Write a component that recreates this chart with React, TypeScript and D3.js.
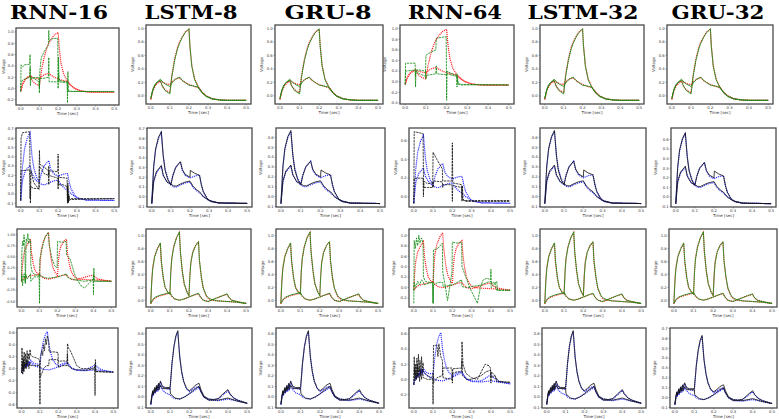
import React from 'react';
import * as d3 from 'd3';

type P = [number, number];

const TITLES = ['RNN-16', 'LSTM-8', 'GRU-8', 'RNN-64', 'LSTM-32', 'GRU-32'];
const MODEL_KIND = ['rnn16', 'good', 'good', 'rnn64', 'good', 'good'];
const X_TICKS = ['0.0', '0.1', '0.2', '0.3', '0.4', '0.5'];
const X_DOMAIN: [number, number] = [-0.025, 0.525];

// ---------- Row 1 (red truth / green prediction) ----------
const R1_TRUTH_A: P[] = [[0,-0.05],[0.01,0.08],[0.02,0.15],[0.035,0.2],[0.05,0.22],[0.06,0.15],[0.075,0.09],[0.1,0.05],[0.11,0.3],[0.125,0.55],[0.14,0.72],[0.15,0.8],[0.165,0.88],[0.18,0.95],[0.2,0.99],[0.205,0.75],[0.215,0.45],[0.23,0.25],[0.25,0.13],[0.27,0.05],[0.29,0.0],[0.32,-0.04],[0.36,-0.06],[0.4,-0.065],[0.5,-0.065]];
const R1_TRUTH_B: P[] = [[0,-0.05],[0.01,0.07],[0.025,0.16],[0.05,0.23],[0.065,0.2],[0.08,0.18],[0.1,0.17],[0.115,0.22],[0.13,0.25],[0.15,0.27],[0.165,0.23],[0.18,0.2],[0.2,0.17],[0.22,0.15],[0.25,0.12],[0.27,0.05],[0.29,0.0],[0.32,-0.04],[0.36,-0.06],[0.4,-0.065],[0.5,-0.065]];
const R1_GOOD_A: P[] = [[0,-0.04],[0.01,0.09],[0.02,0.16],[0.035,0.21],[0.05,0.23],[0.06,0.15],[0.075,0.08],[0.1,0.03],[0.11,0.28],[0.125,0.53],[0.14,0.7],[0.15,0.78],[0.165,0.87],[0.18,0.94],[0.2,1.0],[0.205,0.74],[0.215,0.44],[0.23,0.24],[0.25,0.12],[0.27,0.04],[0.29,-0.01],[0.32,-0.045],[0.36,-0.06],[0.4,-0.065],[0.5,-0.065]];
const R1_GOOD_B: P[] = [[0,-0.04],[0.01,0.08],[0.025,0.18],[0.05,0.25],[0.065,0.2],[0.08,0.17],[0.1,0.14],[0.115,0.21],[0.13,0.25],[0.15,0.28],[0.165,0.23],[0.18,0.2],[0.2,0.16],[0.22,0.15],[0.25,0.13],[0.27,0.05],[0.29,0.0],[0.32,-0.04],[0.36,-0.06],[0.4,-0.065],[0.5,-0.065]];
const R1_RNN16_A: P[] = [[0,-0.05],[0.002,0.42],[0.01,0.38],[0.02,0.42],[0.048,0.43],[0.05,0.6],[0.052,0.18],[0.07,0.19],[0.098,0.2],[0.1,-0.08],[0.102,0.3],[0.11,0.55],[0.125,0.65],[0.14,0.73],[0.148,0.78],[0.15,1.03],[0.152,0.85],[0.17,0.88],[0.198,0.89],[0.2,0.0],[0.202,0.55],[0.205,0.14],[0.248,0.12],[0.25,-0.25],[0.252,0.3],[0.255,-0.04],[0.27,-0.05],[0.5,-0.055]];
const R1_RNN16_B: P[] = [[0,-0.05],[0.002,0.1],[0.01,0.15],[0.03,0.18],[0.048,0.2],[0.05,0.38],[0.052,0.05],[0.055,0.2],[0.07,0.18],[0.098,0.12],[0.1,0.0],[0.102,0.18],[0.12,0.18],[0.148,0.2],[0.15,0.55],[0.152,0.12],[0.2,0.12],[0.202,0.25],[0.205,0.12],[0.248,0.1],[0.25,0.0],[0.252,-0.05],[0.5,-0.05]];
const R1_RNN64_A: P[] = [[0,-0.05],[0.002,0.35],[0.048,0.35],[0.05,-0.1],[0.052,0.2],[0.07,0.15],[0.098,0.1],[0.1,0.5],[0.12,0.55],[0.148,0.6],[0.15,0.82],[0.198,0.85],[0.2,-0.35],[0.202,0.2],[0.22,0.16],[0.248,0.12],[0.25,-0.1],[0.252,0.1],[0.256,-0.05],[0.27,-0.06],[0.5,-0.06]];
const R1_RNN64_B: P[] = [[0,-0.05],[0.002,0.2],[0.048,0.22],[0.05,0.1],[0.052,0.22],[0.07,0.22],[0.098,0.2],[0.1,0.05],[0.102,0.12],[0.148,0.15],[0.15,0.3],[0.152,0.15],[0.198,0.13],[0.2,0.15],[0.248,0.1],[0.25,0.15],[0.252,-0.02],[0.27,-0.05],[0.5,-0.06]];

// ---------- Row 2 (blue truth / black prediction) ----------
const R2_TRUTH_A: P[] = [[0,-0.07],[0.01,0.3],[0.02,0.48],[0.035,0.6],[0.05,0.66],[0.06,0.42],[0.07,0.28],[0.085,0.18],[0.1,0.13],[0.11,0.22],[0.125,0.3],[0.15,0.36],[0.16,0.27],[0.175,0.22],[0.2,0.19],[0.21,0.2],[0.23,0.215],[0.25,0.22],[0.26,0.12],[0.27,0.05],[0.29,-0.02],[0.31,-0.05],[0.35,-0.065],[0.5,-0.07]];
const R2_TRUTH_B: P[] = [[0,-0.07],[0.01,0.15],[0.025,0.25],[0.05,0.31],[0.06,0.22],[0.08,0.15],[0.1,0.12],[0.115,0.1],[0.13,0.1],[0.15,0.12],[0.175,0.14],[0.2,0.15],[0.215,0.1],[0.235,0.06],[0.25,0.04],[0.27,0.0],[0.3,-0.04],[0.35,-0.065],[0.5,-0.07]];
const R2_GOOD_A: P[] = [[0,-0.07],[0.01,0.31],[0.02,0.49],[0.035,0.61],[0.05,0.67],[0.06,0.42],[0.07,0.27],[0.085,0.17],[0.1,0.12],[0.11,0.21],[0.125,0.3],[0.15,0.36],[0.16,0.28],[0.175,0.23],[0.2,0.2],[0.202,0.27],[0.225,0.24],[0.25,0.22],[0.26,0.12],[0.27,0.05],[0.29,-0.02],[0.31,-0.05],[0.35,-0.065],[0.5,-0.07]];
const R2_GOOD_B: P[] = [[0,-0.07],[0.01,0.16],[0.025,0.26],[0.05,0.32],[0.06,0.22],[0.08,0.15],[0.1,0.13],[0.115,0.11],[0.13,0.11],[0.15,0.13],[0.175,0.15],[0.2,0.16],[0.215,0.11],[0.235,0.07],[0.25,0.05],[0.27,0.0],[0.3,-0.04],[0.35,-0.065],[0.5,-0.07]];
const R2_RNN16_A: P[] = [[0,-0.07],[0.002,0.6],[0.01,0.66],[0.048,0.67],[0.05,0.25],[0.052,-0.1],[0.055,0.25],[0.07,0.12],[0.098,0.05],[0.1,0.47],[0.102,0.32],[0.125,0.29],[0.148,0.25],[0.15,0.1],[0.152,0.25],[0.198,0.24],[0.2,0.43],[0.202,0.1],[0.225,0.1],[0.248,0.08],[0.25,-0.1],[0.252,0.08],[0.254,-0.08],[0.256,0.0],[0.26,-0.07],[0.27,-0.05],[0.5,-0.05]];
const R2_RNN16_B: P[] = [[0,-0.07],[0.002,0.25],[0.048,0.26],[0.05,-0.05],[0.052,0.08],[0.07,0.06],[0.098,0.06],[0.1,0.3],[0.125,0.22],[0.148,0.2],[0.15,0.3],[0.152,0.2],[0.198,0.17],[0.2,0.05],[0.202,0.18],[0.248,0.17],[0.25,-0.08],[0.252,0.12],[0.254,-0.1],[0.258,-0.02],[0.262,-0.06],[0.5,-0.05]];
const R2_RNN64_A: P[] = [[0,-0.07],[0.002,0.7],[0.048,0.68],[0.05,0.2],[0.052,0.1],[0.07,0.1],[0.098,0.1],[0.1,0.48],[0.12,0.4],[0.148,0.3],[0.15,0.17],[0.198,0.17],[0.2,0.58],[0.202,0.15],[0.248,0.13],[0.25,-0.05],[0.252,0.12],[0.255,-0.02],[0.26,-0.04],[0.5,-0.04]];
const R2_RNN64_B: P[] = [[0,-0.07],[0.002,0.2],[0.048,0.2],[0.05,0.0],[0.052,0.17],[0.07,0.14],[0.098,0.15],[0.1,0.1],[0.102,0.17],[0.148,0.16],[0.15,0.1],[0.152,0.13],[0.198,0.13],[0.2,-0.05],[0.202,0.12],[0.248,0.1],[0.25,0.02],[0.252,-0.03],[0.27,-0.05],[0.5,-0.05]];

// ---------- Row 3 (red truth / green prediction) ----------
const R3_TRUTH_A: P[] = [[0,-0.05],[0.005,0.3],[0.01,0.5],[0.02,0.68],[0.035,0.8],[0.05,0.88],[0.055,0.6],[0.065,0.35],[0.075,0.2],[0.09,0.12],[0.1,0.1],[0.105,0.45],[0.11,0.65],[0.12,0.83],[0.135,0.97],[0.15,1.05],[0.155,0.75],[0.165,0.45],[0.175,0.25],[0.19,0.13],[0.2,0.08],[0.205,0.4],[0.21,0.6],[0.22,0.75],[0.235,0.85],[0.25,0.9],[0.255,0.6],[0.265,0.35],[0.275,0.18],[0.29,0.07],[0.3,0.03],[0.32,0.0],[0.35,-0.01],[0.4,-0.02],[0.45,-0.03],[0.5,-0.05]];
const R3_TRUTH_B: P[] = [[0,-0.05],[0.01,0.0],[0.025,0.04],[0.05,0.07],[0.075,0.09],[0.1,0.11],[0.11,0.06],[0.125,0.02],[0.15,0.0],[0.175,0.02],[0.2,0.05],[0.225,0.08],[0.25,0.1],[0.26,0.05],[0.275,0.0],[0.3,-0.02],[0.325,0.01],[0.35,0.04],[0.375,0.07],[0.4,0.09],[0.41,0.04],[0.425,0.0],[0.45,-0.02],[0.5,-0.05]];
const R3_GOOD_A: P[] = [[0,-0.05],[0.005,0.28],[0.01,0.48],[0.02,0.67],[0.035,0.8],[0.05,0.89],[0.055,0.62],[0.065,0.36],[0.075,0.2],[0.09,0.12],[0.1,0.09],[0.105,0.44],[0.11,0.64],[0.12,0.82],[0.135,0.97],[0.15,1.06],[0.155,0.76],[0.165,0.46],[0.175,0.26],[0.19,0.12],[0.2,0.07],[0.205,0.38],[0.21,0.58],[0.22,0.74],[0.235,0.85],[0.25,0.91],[0.255,0.62],[0.265,0.36],[0.275,0.19],[0.29,0.08],[0.3,0.04],[0.32,0.01],[0.35,-0.01],[0.4,-0.02],[0.45,-0.03],[0.5,-0.05]];
const R3_GOOD_B: P[] = [[0,-0.05],[0.01,0.01],[0.025,0.05],[0.05,0.08],[0.075,0.1],[0.1,0.12],[0.11,0.07],[0.125,0.02],[0.15,0.0],[0.175,0.02],[0.2,0.05],[0.225,0.08],[0.25,0.11],[0.26,0.05],[0.275,0.0],[0.3,-0.02],[0.325,0.01],[0.35,0.04],[0.375,0.07],[0.4,0.1],[0.41,0.04],[0.425,0.0],[0.45,-0.02],[0.5,-0.05]];
const R3_RNN16_A: P[] = [[0,-0.05],[0.002,0.6],[0.006,0.85],[0.01,0.75],[0.014,1.0],[0.018,0.8],[0.022,-0.1],[0.026,0.9],[0.03,0.85],[0.035,1.03],[0.04,0.8],[0.045,0.9],[0.05,0.88],[0.052,0.3],[0.06,0.15],[0.075,0.1],[0.098,0.08],[0.1,-0.55],[0.102,0.45],[0.115,0.7],[0.13,0.95],[0.148,1.05],[0.155,0.75],[0.17,0.45],[0.185,0.3],[0.198,0.25],[0.2,0.85],[0.225,0.83],[0.248,0.85],[0.25,0.55],[0.27,0.45],[0.3,0.05],[0.33,-0.15],[0.35,-0.2],[0.375,-0.1],[0.398,0.0],[0.4,-0.35],[0.402,0.25],[0.405,-0.02],[0.42,-0.05],[0.5,-0.05]];
const R3_RNN16_B: P[] = [[0,-0.05],[0.002,0.1],[0.006,-0.15],[0.01,0.05],[0.015,0.12],[0.02,-0.08],[0.025,0.1],[0.03,0.0],[0.04,0.05],[0.05,0.12],[0.052,-0.05],[0.07,0.05],[0.098,0.05],[0.1,0.12],[0.102,0.08],[0.13,0.03],[0.15,0.02],[0.2,0.05],[0.225,0.08],[0.25,0.12],[0.252,0.05],[0.275,0.0],[0.3,-0.02],[0.35,-0.05],[0.398,-0.02],[0.4,0.1],[0.402,-0.05],[0.5,-0.05]];
const R3_RNN64_A: P[] = [[0,-0.3],[0.002,0.9],[0.008,0.75],[0.014,0.95],[0.02,0.8],[0.026,1.0],[0.032,0.85],[0.04,0.95],[0.048,0.85],[0.05,0.2],[0.06,0.12],[0.08,0.1],[0.098,0.1],[0.1,-0.3],[0.102,0.72],[0.125,0.75],[0.148,0.85],[0.15,0.3],[0.16,0.1],[0.175,-0.25],[0.19,0.1],[0.198,0.3],[0.2,0.87],[0.225,0.85],[0.248,0.87],[0.25,0.4],[0.27,0.2],[0.29,0.0],[0.33,-0.3],[0.345,0.0],[0.36,0.15],[0.38,0.18],[0.398,0.15],[0.4,0.35],[0.402,0.08],[0.42,0.1],[0.43,-0.05],[0.5,-0.05]];
const R3_RNN64_B: P[] = [[0,-0.05],[0.002,0.1],[0.01,0.0],[0.02,0.12],[0.03,0.05],[0.04,0.15],[0.05,0.1],[0.052,0.05],[0.075,0.08],[0.098,0.1],[0.1,-0.3],[0.102,0.05],[0.125,0.1],[0.15,0.1],[0.152,0.02],[0.2,0.05],[0.225,0.1],[0.248,0.15],[0.25,0.02],[0.275,0.0],[0.3,0.02],[0.35,0.05],[0.38,0.1],[0.4,0.12],[0.402,0.0],[0.43,0.12],[0.435,-0.05],[0.5,-0.05]];

// ---------- Row 4 (blue truth / black prediction) ----------
const R4_TRUTH_A: P[] = [[0,-0.07],[0.005,0.0],[0.01,0.05],[0.012,0.02],[0.02,0.08],[0.022,0.05],[0.03,0.1],[0.032,0.07],[0.04,0.12],[0.042,0.09],[0.05,0.14],[0.06,0.1],[0.075,0.08],[0.1,0.07],[0.105,0.2],[0.11,0.32],[0.12,0.48],[0.13,0.57],[0.14,0.62],[0.145,0.5],[0.15,0.38],[0.16,0.24],[0.17,0.15],[0.185,0.08],[0.2,0.05],[0.215,0.07],[0.23,0.09],[0.25,0.1],[0.26,0.05],[0.275,0.0],[0.3,-0.02],[0.325,-0.025],[0.35,-0.02],[0.375,0.02],[0.4,0.06],[0.41,0.03],[0.43,-0.01],[0.45,-0.03],[0.5,-0.06]];
const R4_TRUTH_B: P[] = [[0,-0.07],[0.005,-0.01],[0.01,0.04],[0.012,0.01],[0.02,0.06],[0.022,0.03],[0.03,0.08],[0.032,0.05],[0.04,0.1],[0.042,0.07],[0.05,0.1],[0.06,0.07],[0.075,0.04],[0.1,0.02],[0.11,0.0],[0.125,-0.015],[0.15,-0.02],[0.175,0.0],[0.2,0.03],[0.225,0.06],[0.25,0.09],[0.26,0.05],[0.275,0.0],[0.3,-0.03],[0.35,-0.035],[0.4,-0.02],[0.45,-0.04],[0.5,-0.06]];
const R4_GOOD_A: P[] = [[0,-0.07],[0.005,0.01],[0.01,0.06],[0.012,0.03],[0.02,0.09],[0.022,0.06],[0.03,0.11],[0.032,0.08],[0.04,0.13],[0.042,0.1],[0.05,0.15],[0.06,0.1],[0.075,0.09],[0.1,0.09],[0.105,0.2],[0.11,0.32],[0.12,0.48],[0.13,0.58],[0.14,0.63],[0.145,0.5],[0.15,0.38],[0.16,0.24],[0.17,0.15],[0.185,0.08],[0.2,0.06],[0.215,0.08],[0.23,0.11],[0.25,0.13],[0.26,0.07],[0.275,0.01],[0.3,-0.02],[0.325,-0.025],[0.35,-0.015],[0.375,0.03],[0.4,0.07],[0.41,0.03],[0.43,-0.01],[0.45,-0.03],[0.5,-0.06]];
const R4_GOOD_B: P[] = [[0,-0.07],[0.005,0.0],[0.01,0.05],[0.012,0.02],[0.02,0.07],[0.022,0.04],[0.03,0.09],[0.032,0.06],[0.04,0.1],[0.042,0.07],[0.05,0.11],[0.06,0.08],[0.075,0.08],[0.1,0.08],[0.102,0.03],[0.125,-0.01],[0.15,-0.02],[0.175,0.0],[0.2,0.03],[0.225,0.07],[0.25,0.1],[0.26,0.05],[0.275,0.0],[0.3,-0.03],[0.35,-0.03],[0.4,-0.01],[0.45,-0.04],[0.5,-0.06]];
const R4_RNN16_A: P[] = [[0,-0.07],[0.002,0.35],[0.005,0.0],[0.008,0.2],[0.011,-0.05],[0.014,0.28],[0.018,0.05],[0.022,0.25],[0.026,0.0],[0.03,0.3],[0.034,0.1],[0.038,0.25],[0.042,0.15],[0.046,0.32],[0.05,0.22],[0.06,0.2],[0.08,0.18],[0.098,0.15],[0.1,-0.6],[0.102,0.2],[0.11,0.3],[0.115,0.22],[0.12,0.4],[0.125,0.3],[0.13,0.5],[0.135,0.4],[0.14,0.55],[0.148,0.45],[0.15,0.28],[0.175,0.28],[0.198,0.27],[0.2,0.12],[0.225,0.13],[0.248,0.12],[0.25,0.42],[0.255,0.35],[0.265,0.3],[0.28,0.2],[0.3,0.05],[0.325,0.0],[0.35,0.0],[0.375,0.0],[0.398,0.02],[0.4,-0.45],[0.402,0.15],[0.405,-0.05],[0.42,-0.05],[0.5,-0.06]];
const R4_RNN16_B: P[] = [[0,-0.07],[0.003,0.1],[0.006,-0.1],[0.01,0.15],[0.013,-0.05],[0.017,0.1],[0.02,0.0],[0.025,0.15],[0.03,0.05],[0.035,0.12],[0.04,0.0],[0.045,0.1],[0.05,0.05],[0.07,0.05],[0.098,0.05],[0.1,-0.15],[0.11,-0.08],[0.12,0.0],[0.135,0.05],[0.148,0.05],[0.15,0.15],[0.175,0.15],[0.198,0.15],[0.2,0.02],[0.225,0.05],[0.248,0.05],[0.25,0.25],[0.252,0.05],[0.275,0.0],[0.3,-0.02],[0.35,-0.03],[0.398,0.0],[0.4,0.08],[0.402,-0.05],[0.5,-0.06]];
const R4_RNN64_A: P[] = [[0,-0.07],[0.002,0.3],[0.005,0.05],[0.008,0.2],[0.012,0.0],[0.016,0.28],[0.02,0.05],[0.024,0.33],[0.028,0.1],[0.032,0.25],[0.036,0.05],[0.04,0.3],[0.044,0.1],[0.048,0.22],[0.05,0.1],[0.07,0.05],[0.098,0.0],[0.1,-0.33],[0.102,0.45],[0.12,0.45],[0.125,0.3],[0.13,0.47],[0.14,0.3],[0.148,0.25],[0.15,0.15],[0.175,0.15],[0.198,0.15],[0.2,-0.05],[0.202,0.14],[0.248,0.15],[0.25,0.5],[0.255,0.2],[0.27,0.08],[0.3,0.02],[0.33,0.0],[0.35,0.1],[0.37,0.2],[0.39,0.18],[0.398,0.15],[0.4,-0.05],[0.402,0.1],[0.42,0.05],[0.43,-0.03],[0.5,-0.04]];
const R4_RNN64_B: P[] = [[0,-0.07],[0.003,0.15],[0.006,-0.02],[0.01,0.12],[0.014,0.0],[0.018,0.2],[0.022,0.02],[0.026,0.15],[0.03,-0.03],[0.035,0.12],[0.04,0.0],[0.045,0.1],[0.05,0.02],[0.07,0.0],[0.098,0.0],[0.1,0.08],[0.102,-0.05],[0.12,0.02],[0.148,0.05],[0.15,0.15],[0.152,0.02],[0.198,0.0],[0.2,0.08],[0.225,0.1],[0.248,0.1],[0.25,0.25],[0.252,0.05],[0.275,0.0],[0.3,0.0],[0.35,0.05],[0.375,0.1],[0.398,0.12],[0.4,0.02],[0.42,0.05],[0.44,-0.03],[0.5,-0.04]];

// ---------- y tick labels per panel ----------
const T_M02_10 = ['-0.2', '0.0', '0.2', '0.4', '0.6', '0.8', '1.0'];
const T_00_10 = ['0.0', '0.2', '0.4', '0.6', '0.8', '1.0'];
const T_M04_10 = ['-0.4', '-0.2', '0.0', '0.2', '0.4', '0.6', '0.8', '1.0'];
const T_M01_07 = ['-0.1', '0.0', '0.1', '0.2', '0.3', '0.4', '0.5', '0.6', '0.7'];
const T_M01_06 = ['-0.1', '0.0', '0.1', '0.2', '0.3', '0.4', '0.5', '0.6'];
const T_00_06 = ['0.0', '0.2', '0.4', '0.6'];
const T_M050_100 = ['-0.50', '-0.25', '0.00', '0.25', '0.50', '0.75', '1.00'];
const T_M06_06 = ['-0.6', '-0.4', '-0.2', '0.0', '0.2', '0.4', '0.6'];
const T_M02_06 = ['-0.2', '0.0', '0.2', '0.4', '0.6'];

const Y_TICKS = [
  [T_M02_10, T_00_10, T_00_10, T_M04_10, T_00_10, T_00_10],
  [T_M01_07, T_M01_07, T_M01_06, T_00_06, T_M01_06, T_M01_06],
  [T_M050_100, T_00_10, T_00_10, T_M02_10, T_00_10, T_00_10],
  [T_M06_06, T_M01_06, T_M01_06, T_M02_06, T_M01_06, T_M01_07],
];
const Y_DOMAINS: [number, number][][] = [
  [[-0.29, 1.07], [-0.12, 1.055], [-0.12, 1.055], [-0.42, 1.07], [-0.12, 1.055], [-0.12, 1.055]],
  [[-0.14, 0.71], [-0.107, 0.707], [-0.105, 0.695], [-0.11, 0.74], [-0.105, 0.695], [-0.105, 0.72]],
  [[-0.63, 1.13], [-0.105, 1.105], [-0.105, 1.105], [-0.37, 1.12], [-0.105, 1.105], [-0.105, 1.105]],
  [[-0.66, 0.68], [-0.105, 0.655], [-0.105, 0.655], [-0.38, 0.68], [-0.105, 0.655], [-0.105, 0.705]],
];

const ROWS = [
  { truth: [R1_TRUTH_A, R1_TRUTH_B], good: [R1_GOOD_A, R1_GOOD_B], rnn16: [R1_RNN16_A, R1_RNN16_B], rnn64: [R1_RNN64_A, R1_RNN64_B], truthColor: '#ff1f1f', predColor: '#118a11' },
  { truth: [R2_TRUTH_A, R2_TRUTH_B], good: [R2_GOOD_A, R2_GOOD_B], rnn16: [R2_RNN16_A, R2_RNN16_B], rnn64: [R2_RNN64_A, R2_RNN64_B], truthColor: '#2a2aff', predColor: '#111111' },
  { truth: [R3_TRUTH_A, R3_TRUTH_B], good: [R3_GOOD_A, R3_GOOD_B], rnn16: [R3_RNN16_A, R3_RNN16_B], rnn64: [R3_RNN64_A, R3_RNN64_B], truthColor: '#ff1f1f', predColor: '#118a11' },
  { truth: [R4_TRUTH_A, R4_TRUTH_B], good: [R4_GOOD_A, R4_GOOD_B], rnn16: [R4_RNN16_A, R4_RNN16_B], rnn64: [R4_RNN64_A, R4_RNN64_B], truthColor: '#2a2aff', predColor: '#111111' },
];

// ---------- layout (pixels) ----------
const TITLE_X = [59, 191, 328, 455, 583, 718];
const TITLE_W = [98, 93, 87, 94, 111, 93];
const BOXES: [number, number, number, number][][] = [
  [[16, 119, 28, 105], [146, 251, 25, 104], [275, 383, 25, 104], [400, 514, 25, 104], [540, 644, 25, 104], [667, 773, 25, 104]],
  [[16, 119, 128, 207], [147, 252, 128, 207], [276, 385, 128, 207], [409, 515, 128, 207], [540, 646, 128, 207], [671, 776, 128, 207]],
  [[17, 116, 229, 307], [146, 251, 229, 307], [276, 383, 229, 307], [409, 515, 229, 307], [540, 646, 229, 307], [669, 777, 229, 307]],
  [[17, 118, 328, 408], [146, 252, 328, 408], [276, 384, 328, 408], [409, 515, 328, 408], [542, 646, 328, 408], [670, 777, 328, 408]],
];

const TICK_FONT = 'DejaVu Sans, sans-serif';

function Panel({ r, c }: { r: number; c: number }) {
  const row = ROWS[r];
  const [x0, x1, y0, y1] = BOXES[r][c];
  const x = d3.scaleLinear().domain(X_DOMAIN).range([x0, x1]);
  const y = d3.scaleLinear().domain(Y_DOMAINS[r][c]).range([y1, y0]);
  const line = d3.line<P>().x((d) => x(d[0])).y((d) => y(d[1])).curve(d3.curveLinear);
  const kind = MODEL_KIND[c];
  const preds = kind === 'good' ? row.good : kind === 'rnn16' ? row.rnn16 : row.rnn64;
  const yt = Y_TICKS[r][c];
  const maxLen = Math.max(...yt.map((s) => s.length));
  const ylabX = Math.max(4.6, x0 - 3 - maxLen * 2.1 - 2.5);
  const clipId = `clip-${r}-${c}`;
  return (
    <g>
      <clipPath id={clipId}>
        <rect x={x0} y={y0} width={x1 - x0} height={y1 - y0} />
      </clipPath>
      <g clipPath={`url(#${clipId})`}>
        {row.truth.map((s, i) => (
          <path key={'t' + i} d={line(s) || ''} fill="none" stroke={row.truthColor} strokeWidth={1.2} strokeDasharray="1.1,0.9" />
        ))}
        {preds.map((s, i) => (
          <path key={'p' + i} d={line(s) || ''} fill="none" stroke={row.predColor} strokeWidth={0.9}
            strokeDasharray={kind === 'good' ? undefined : '2.4,0.8'} strokeOpacity={0.9} />
        ))}
      </g>
      <rect x={x0} y={y0} width={x1 - x0} height={y1 - y0} fill="none" stroke="#4a4a4a" strokeWidth={1.3} />
      {X_TICKS.map((t) => (
        <g key={'x' + t}>
          <line x1={x(+t)} x2={x(+t)} y1={y1} y2={y1 + 1.5} stroke="#555" strokeWidth={0.5} />
          <text x={x(+t)} y={y1 + 5} fontSize={3.8} fontFamily={TICK_FONT} fill="#333" textAnchor="middle">{t}</text>
        </g>
      ))}
      {yt.map((t) => (
        <g key={'y' + t}>
          <line x1={x0 - 1.5} x2={x0} y1={y(+t)} y2={y(+t)} stroke="#555" strokeWidth={0.5} />
          <text x={x0 - 2.2} y={y(+t) + 1.3} fontSize={maxLen > 4 ? 3.4 : 3.8} fontFamily={TICK_FONT} fill="#333" textAnchor="end">{t}</text>
        </g>
      ))}
      <text x={(x0 + x1) / 2} y={y1 + 9.5} fontSize={4} fontFamily={TICK_FONT} fill="#333" textAnchor="middle">Time [sec]</text>
      <text transform={`translate(${ylabX},${(y0 + y1) / 2}) rotate(-90)`} fontSize={4} fontFamily={TICK_FONT} fill="#333" textAnchor="middle">Voltage</text>
    </g>
  );
}

export default function App() {
  return (
    <svg width={779} height={419} viewBox="0 0 779 419" style={{ position: 'absolute', left: 0, top: 0, background: '#fff' }}>
      <rect x={0} y={0} width={779} height={419} fill="#fff" />
      {TITLES.map((t, i) => (
        <text key={t} x={TITLE_X[i]} y={18.5} textAnchor="middle" fontFamily="DejaVu Serif, serif" fontWeight="bold" fontSize={19}
          textLength={TITLE_W[i]} lengthAdjust="spacingAndGlyphs" fill="#000">{t}</text>
      ))}
      {ROWS.map((_, r) => TITLES.map((__, c) => <Panel key={`${r}-${c}`} r={r} c={c} />))}
    </svg>
  );
}
